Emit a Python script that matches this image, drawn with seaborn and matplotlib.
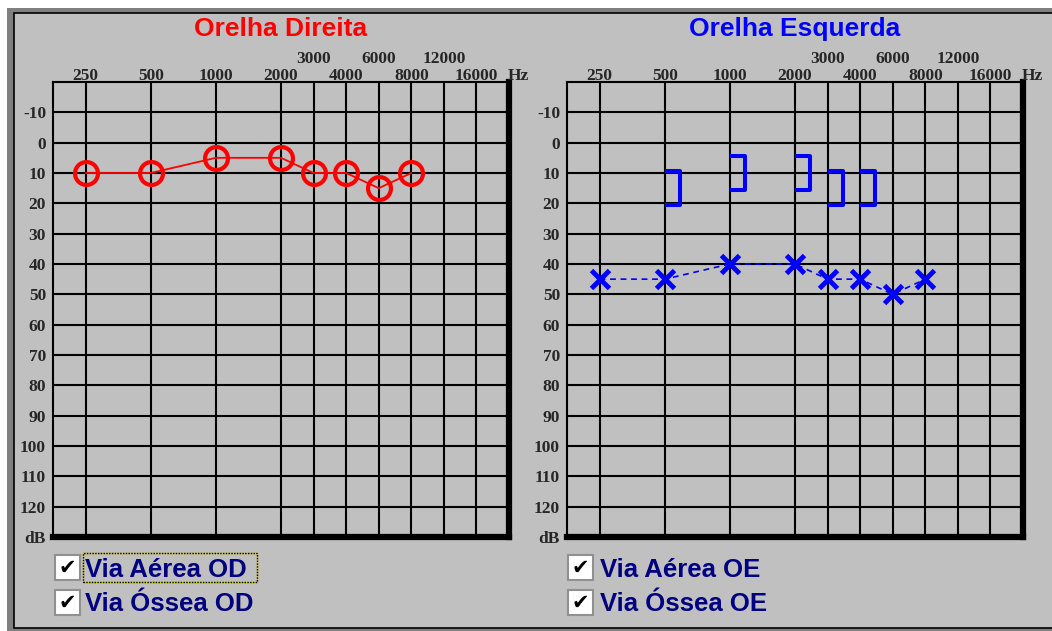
import matplotlib
matplotlib.use("Agg")
import matplotlib.pyplot as plt
import matplotlib.transforms as mtransforms
from matplotlib.patches import Rectangle
from matplotlib.markers import MarkerStyle
from matplotlib.path import Path
import seaborn as sns
import pandas as pd

sns.set_style("white")
plt.rcParams['font.family'] = ['Liberation Sans', 'DejaVu Sans']

# ---------------- data ----------------
frequencies = [250, 500, 1000, 2000, 3000, 4000, 6000, 8000, 12000, 16000]
freq_low_row = ["250", "500", "1000", "2000", "4000", "8000", "16000"]
freq_high_row = ["3000", "6000", "12000"]
db_ticks = [-10, 0, 10, 20, 30, 40, 50, 60, 70, 80, 90, 100, 110, 120]

air_freqs = [250, 500, 1000, 2000, 3000, 4000, 6000, 8000]
od_air = [10, 10, 5, 5, 10, 10, 15, 10]          # Orelha Direita, via aérea
oe_air = [45, 45, 40, 40, 45, 45, 50, 45]        # Orelha Esquerda, via aérea
bone_freqs = [500, 1000, 2000, 3000, 4000]
oe_bone = [15, 10, 10, 15, 15]                   # Orelha Esquerda, via óssea

titles = ["Orelha Direita", "Orelha Esquerda"]
title_colors = ["#FF0000", "#0000FF"]
check_labels = [["Via Aérea OD", "Via Óssea OD"], ["Via Aérea OE", "Via Óssea OE"]]

# audiogram scale: octaves two units apart, half-octaves one unit
audiogram_scale = {250: 1, 500: 3, 1000: 5, 2000: 7, 3000: 8, 4000: 9,
                   6000: 10, 8000: 11, 12000: 12, 16000: 13}

W, H = 1052, 631
fig = plt.figure(figsize=(W / 100, H / 100), dpi=100)
fig.patch.set_facecolor("white")


def fx(px):
    return px / W


def fy(py):
    return 1 - py / H


# window frame
fig.add_artist(Rectangle((fx(7), fy(640)), fx(1060) - fx(7), fy(8) - fy(640),
                         transform=fig.transFigure, facecolor="#808080",
                         edgecolor="none", zorder=-10))
fig.add_artist(Rectangle((fx(13.5), fy(627.5)), fx(1070) - fx(13.5), fy(13.5) - fy(627.5),
                         transform=fig.transFigure, facecolor="#C0C0C0",
                         edgecolor="black", lw=1.2, zorder=-9))

serif = dict(family="Liberation Serif", weight="bold", size=12.5)

ax_left_px = [53, 567]
axes = []
for i, lp in enumerate(ax_left_px):
    ax = fig.add_axes([fx(lp), fy(537), 456 / W, 455 / H])
    ax.set_facecolor("#C0C0C0")
    ax.set_xlim(0, 14)
    ax.set_ylim(130, -20)
    ax.set_xticks([audiogram_scale[f] for f in frequencies])
    ax.set_xticklabels([])
    ax.set_yticks(db_ticks + [130])
    ax.set_yticklabels([("-10" if d == -10 else str(d)) for d in db_ticks] + ["dB"])
    for lab in ax.get_yticklabels():
        lab.set_fontfamily("Liberation Serif")
        lab.set_fontweight("bold")
        lab.set_fontsize(12.5)
    ax.tick_params(axis="both", length=0)
    ax.tick_params(axis="y", pad=5)
    ax.grid(True, color="black", lw=1.5)
    ax.set_axisbelow(True)
    for s in ["top", "left"]:
        ax.spines[s].set_color("black")
        ax.spines[s].set_linewidth(1.5)
    for s in ["right", "bottom"]:
        ax.spines[s].set_color("black")
        ax.spines[s].set_linewidth(4.5)
    trans = mtransforms.blended_transform_factory(ax.transData, ax.transAxes)
    for f in frequencies:
        lbl = str(f)
        if lbl in freq_low_row:
            ax.text(audiogram_scale[f], 1 + 2 / 455, lbl, transform=trans,
                    ha="center", va="baseline", **serif)
        else:
            ax.text(audiogram_scale[f], 1 + 19 / 455, lbl, transform=trans,
                    ha="center", va="baseline", **serif)
    ax.text(13.97, 1 + 2 / 455, "Hz", transform=trans, ha="left",
            va="baseline", **serif)
    fig.text(fx(lp + 228), fy(29), titles[i], color=title_colors[i],
             fontsize=19, fontweight="bold", ha="center", va="center")
    axes.append(ax)

# ---------- right ear: air conduction (red circles, solid line) ----------
df_od = pd.DataFrame({"x": [audiogram_scale[f] for f in air_freqs], "db": od_air})
sns.lineplot(data=df_od, x="x", y="db", ax=axes[0], color="#FF0000", lw=1.3,
             marker="o", markersize=16.5, markerfacecolor="none",
             markeredgecolor="#FF0000", markeredgewidth=3.0, zorder=5)

# ---------- left ear: air conduction (blue X, dashed line) ----------
df_oe = pd.DataFrame({"x": [audiogram_scale[f] for f in air_freqs], "db": oe_air})
sns.lineplot(data=df_oe, x="x", y="db", ax=axes[1], color="#0000FF", lw=1.2,
             linestyle=(0, (3.5, 2.8)), marker="x", markersize=13,
             markeredgecolor="#0000FF", markeredgewidth=3.5, zorder=5)

# ---------- left ear: bone conduction (] brackets) ----------
bracket = MarkerStyle(Path([(0, 1), (0.88, 1), (0.88, -1), (0, -1)],
                           [Path.MOVETO, Path.LINETO, Path.LINETO, Path.LINETO]),
                      joinstyle="miter", capstyle="butt")
df_bone = pd.DataFrame({"x": [audiogram_scale[f] for f in bone_freqs], "db": oe_bone})
sns.lineplot(data=df_bone, x="x", y="db", ax=axes[1], linestyle="",
             marker=bracket, markersize=24.5, markerfacecolor="none",
             markeredgecolor="#0000FF", markeredgewidth=2.9, zorder=5)

for ax in axes:
    ax.set_xlabel("")
    ax.set_ylabel("")

# ---------- check boxes ----------
box_x = [55, 568]
text_x = [85, 600]
row_box_y = [555, 590]
row_base = [577, 611]
for i in range(2):
    for r in range(2):
        bx, by = box_x[i], row_box_y[r]
        fig.add_artist(Rectangle((fx(bx), fy(by + 25)), 25 / W, 25 / H,
                                 transform=fig.transFigure, facecolor="white",
                                 edgecolor="#909090", lw=1.5))
        fig.text(fx(bx + 12.5), fy(by + 13), "✔", family="DejaVu Sans",
                 fontsize=15, color="black", ha="center", va="center")
        fig.text(fx(text_x[i]), fy(row_base[r]), check_labels[i][r],
                 color="#000080", fontsize=18.5, fontweight="bold",
                 ha="left", va="baseline")

# focus rectangle around the first label
fig.add_artist(Rectangle((fx(83), fy(582)), 174 / W, 29 / H,
                         transform=fig.transFigure, facecolor="none",
                         edgecolor="#C8C800", lw=1.0))
fig.add_artist(Rectangle((fx(83), fy(582)), 174 / W, 29 / H,
                         transform=fig.transFigure, facecolor="none",
                         edgecolor="black", lw=1.0, linestyle=(0, (1, 1))))

fig.savefig("out.png", dpi=100, facecolor=fig.get_facecolor())
